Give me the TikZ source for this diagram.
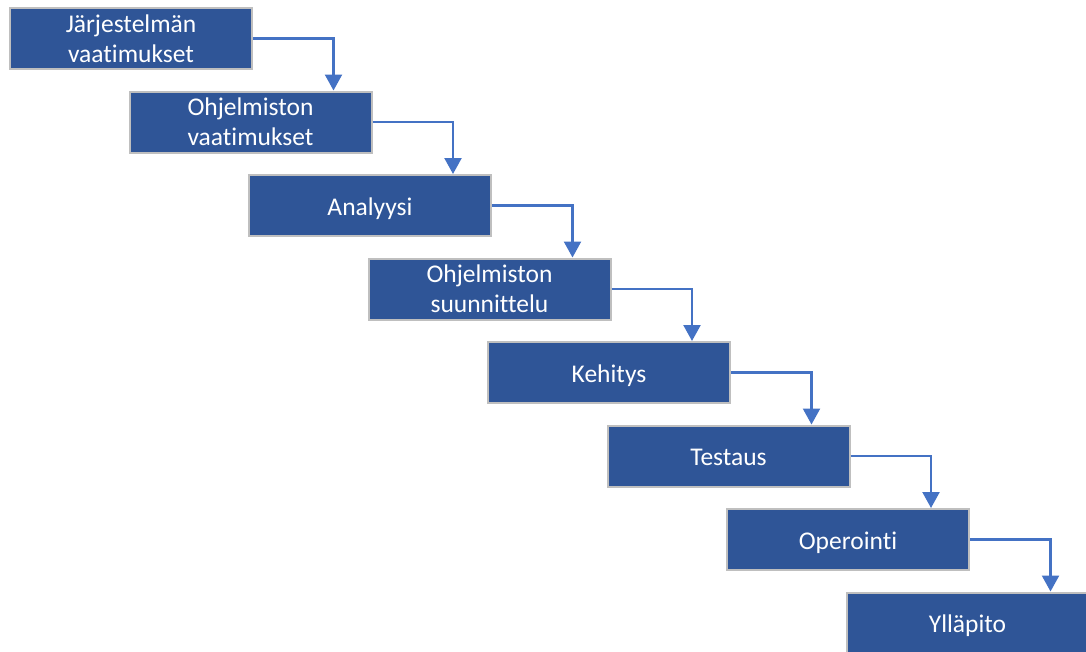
\documentclass[tikz,border=0pt]{standalone}
\usepackage{fontspec}
\setmainfont{Carlito}[Ligatures={NoCommon}]
\usetikzlibrary{arrows.meta}
\definecolor{boxfill}{HTML}{2F5597}
\definecolor{boxline}{HTML}{BFBFBF}
\definecolor{arrowblue}{HTML}{4472C4}
\tikzset{
  stage/.style={draw=boxline, line width=2pt, fill=boxfill, text=white,
    minimum width=242pt, minimum height=61pt, inner sep=0pt,
    align=center, font=\fontsize{25.5pt}{30pt}\selectfont},
  single/.style={text height=19pt, text depth=0pt},
  flow/.style={draw=arrowblue, line width=2.3pt,
    -{Triangle[width=17pt,length=16pt]}}
}
\begin{document}
\begin{tikzpicture}[x=1pt,y=-1pt]
\useasboundingbox (0,0) rectangle (1086,651);
\clip (0,0) rectangle (1086,651);
\node[stage] (b1) at (131,38.5) {Järjestelmän\\vaatimukset};
\node[stage] (b2) at (250.5,122) {Ohjelmiston\\vaatimukset};
\node[stage,single] (b3) at (370,205.5) {Analyysi};
\node[stage] (b4) at (489.5,289) {Ohjelmiston\\suunnittelu};
\node[stage,single] (b5) at (609,372.5) {Kehitys};
\node[stage,single] (b6) at (728.5,456) {Testaus};
\node[stage,single] (b7) at (848,539.5) {Operointi};
\node[stage,single] (b8) at (967.5,623) {Ylläpito};
\foreach \a/\b in {b1/b2,b2/b3,b3/b4,b4/b5,b5/b6,b6/b7,b7/b8}{
  \draw[flow] (\a.east) -| ([xshift=83pt]\b.north);
}
\end{tikzpicture}
\end{document}
